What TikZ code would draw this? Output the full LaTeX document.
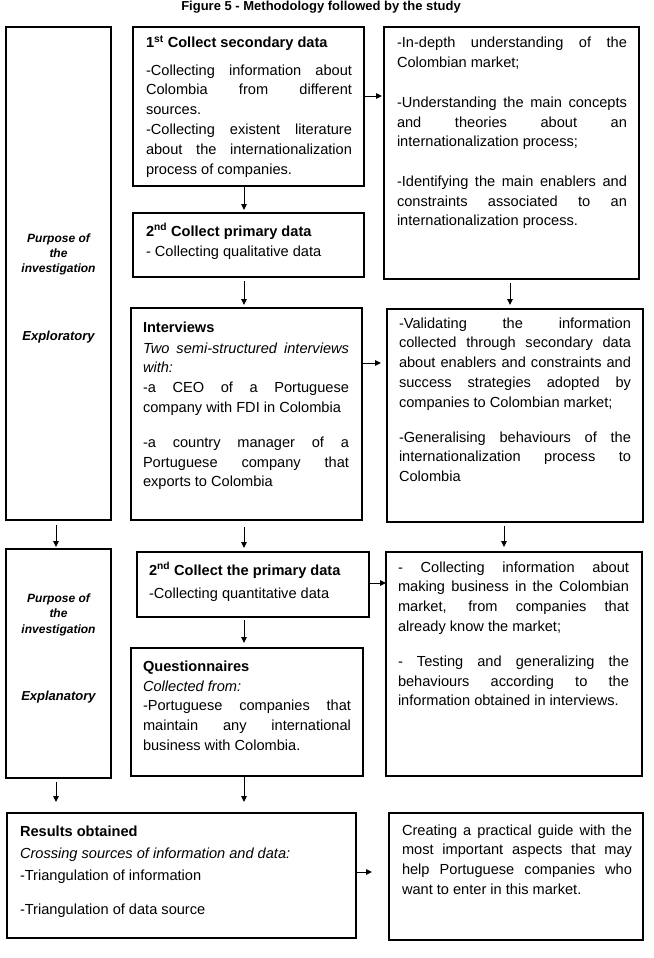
\documentclass[tikz,border=0pt]{standalone}
\usepackage{fontspec}
\setmainfont{Liberation Sans}
\usetikzlibrary{arrows.meta}
\newcommand\bodysize{\fontsize{14.6}{19.8}\selectfont}
\newcommand\mkbox[5]{\node[bx, minimum width=#4pt-#2pt, minimum height=#5pt-#3pt] (#1) at (#2,#3) {};}
\begin{document}
\begin{tikzpicture}[x=1pt,y=-1pt,
  bx/.style={draw, line width=1.5pt, inner sep=0pt, outer sep=0pt, anchor=north west},
  txt/.style={inner sep=0pt, outer sep=0pt, anchor=base west, font=\bodysize,
    execute at begin node={\tolerance=10000 \hyphenpenalty=10000 \exhyphenpenalty=10000 \parindent=0pt}},
  jtxt/.style={txt, align=justify},
  hd/.style={inner sep=0pt, outer sep=0pt, anchor=base west, font=\bodysize\bfseries},
  lab/.style={inner sep=0pt, outer sep=0pt, anchor=base, font=\fontsize{12}{15}\selectfont\bfseries\itshape},
  labb/.style={inner sep=0pt, outer sep=0pt, anchor=base, font=\fontsize{13}{15}\selectfont\bfseries\itshape},
  arr/.style={line width=1pt, -{Triangle[length=6pt,width=5.5pt]}}]
\useasboundingbox (0,0) rectangle (653,958);

% title
\node[font=\fontsize{13}{15}\selectfont\bfseries, anchor=base, inner sep=0pt] (title) at (321,10.5) {Figure 5 - Methodology followed by the study};

% boxes
\mkbox{L1}{6}{27}{111}{520}
\mkbox{A}{133}{27}{364}{186}
\mkbox{B}{384}{27}{639}{279}
\mkbox{C}{133}{213}{364}{277}
\mkbox{D}{131}{308}{362}{520}
\mkbox{E}{387}{309}{643}{522}
\mkbox{L2}{6}{549}{111}{778}
\mkbox{F}{137}{552}{369}{617}
\mkbox{G}{131}{648}{363}{776}
\mkbox{H}{386}{552}{642}{776}
\mkbox{I}{7}{813}{356}{938}
\mkbox{J}{389}{813}{643}{940}

% left labels
\node[lab] (p1a) at (58.5,242) {Purpose of};
\node[lab] (p1b) at (58.5,257) {the};
\node[lab] (p1c) at (58.5,272) {investigation};
\node[labb] (ex1) at (58.5,340) {Exploratory};
\node[lab] (p2a) at (58.5,602) {Purpose of};
\node[lab] (p2b) at (58.5,617) {the};
\node[lab] (p2c) at (58.5,633) {investigation};
\node[labb] (ex2) at (58.5,700) {Explanatory};

% box A
\node[hd] (Ah) at (146,48) {1\textsuperscript{st} Collect secondary data};
\node[jtxt, text width=206pt] (At) at (146,75) {-Collecting information about\linebreak Colombia from different\linebreak sources.\par -Collecting existent literature\linebreak about the internationalization\linebreak process of companies.};

% box B
\node[jtxt, text width=230pt] (Bt) at (397,48) {-In-depth understanding of the\linebreak Colombian market;\par\vspace{19.7pt}-Understanding the main concepts\linebreak and theories about an\linebreak internationalization process;\par\vspace{19.7pt}-Identifying the main enablers and\linebreak constraints associated to an\linebreak internationalization process.};

% box C
\node[hd] (Ch) at (146,236) {2\textsuperscript{nd} Collect primary data};
\node[txt] (Ct) at (146,256) {- Collecting qualitative data};

% box D
\node[hd] (Dh) at (143,332) {Interviews};
\node[jtxt, text width=206pt] (Dt) at (143,353) {\itshape Two semi-structured interviews\linebreak with:\par\upshape -a CEO of a Portuguese\linebreak company with FDI in Colombia\par\vspace{15pt}-a country manager of a\linebreak Portuguese company that\linebreak exports to Colombia};

% box E
\node[jtxt, text width=232pt] (Et) at (399,328) {-Validating the information\linebreak collected through secondary data\linebreak about enablers and constraints and\linebreak success strategies adopted by\linebreak companies to Colombian market;\par\vspace{15pt}-Generalising behaviours of the\linebreak internationalization process to\linebreak Colombia};

% box F
\node[hd] (Fh) at (149,575) {2\textsuperscript{nd} Collect the primary data};
\node[txt] (Ft) at (149,598) {-Collecting quantitative data};

% box G
\node[hd] (Gh) at (143,671) {Questionnaires};
\node[jtxt, text width=208pt] (Gt) at (143,691) {\itshape Collected from:\par\upshape -Portuguese companies that\linebreak maintain any international\linebreak business with Colombia.};

% box H
\node[jtxt, text width=231pt] (Ht) at (398,572) {- Collecting information about\linebreak making business in the Colombian\linebreak market, from companies that\linebreak already know the market;\par\vspace{15pt}- Testing and generalizing the\linebreak behaviours according to the\linebreak information obtained in interviews.};

% box I
\node[hd] (Ih) at (20,836) {Results obtained};
\node[txt, font=\bodysize\itshape] (Ii) at (20,858) {Crossing sources of information and data:};
\node[txt] (Ij) at (20,880) {-Triangulation of information};
\node[txt] (Ik) at (20,914) {-Triangulation of data source};

% box J
\node[jtxt, text width=230pt] (Jt) at (402,835) {Creating a practical guide with the\linebreak most important aspects that may\linebreak help Portuguese companies who\linebreak want to enter in this market.};

% connector guides
\coordinate (xc) at (244,0);
\coordinate (xb) at (510,0);
\coordinate (xl) at (56,0);
\coordinate (xe) at (504,0);
\coordinate (yab) at (0,96);
\coordinate (yde) at (0,363);
\coordinate (yfh) at (0,583);
\coordinate (yij) at (0,872);

% connectors
\draw[arr, shorten >=2pt] (A.east |- yab) -- (B.west |- yab);
\draw[arr, shorten >=3pt] (A.south -| xc) -- (C.north -| xc);
\draw[arr, shorten <=4pt, shorten >=3pt] (C.south -| xc) -- (D.north -| xc);
\draw[arr, shorten <=4pt, shorten >=4pt] (B.south -| xb) -- (E.north -| xb);
\draw[arr, shorten >=6pt] (D.east |- yde) -- (E.west |- yde);
\draw[arr, shorten <=5pt, shorten >=2pt] (L1.south -| xl) -- (L2.north -| xl);
\draw[arr, shorten <=7pt, shorten >=4pt] (D.south -| xc) -- (F.north -| xc);
\draw[arr, shorten <=4pt, shorten >=5pt] (E.south -| xe) -- (H.north -| xe);
\draw[arr, shorten <=3pt, shorten >=5pt] (F.south -| xc) -- (G.north -| xc);
\draw[arr] (F.east |- yfh) -- (H.west |- yfh);
\draw[arr, shorten <=4pt, shorten >=11pt] (L2.south -| xl) -- (I.north -| xl);
\draw[arr, shorten >=11pt] (G.south -| xc) -- (I.north -| xc);
\draw[arr, shorten >=17pt] (I.east |- yij) -- (J.west |- yij);
\end{tikzpicture}
\end{document}
